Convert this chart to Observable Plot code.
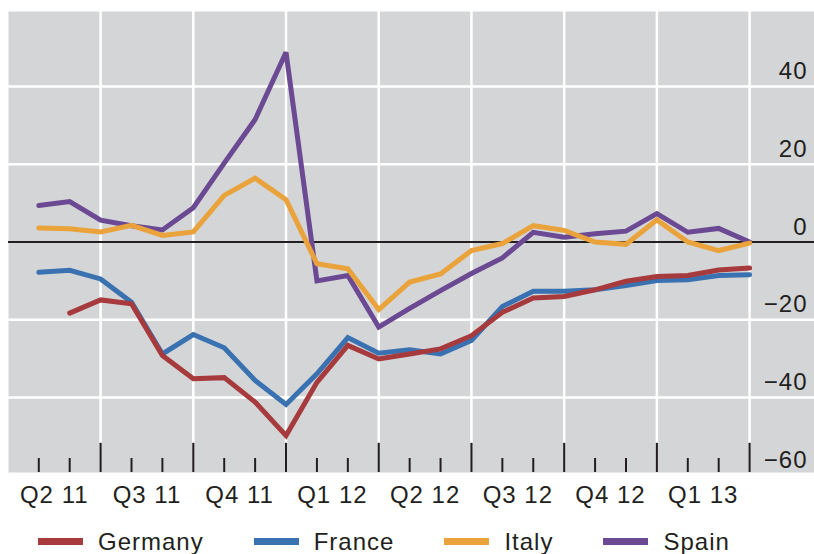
<!DOCTYPE html>
<html>
<head>
<meta charset="utf-8">
<script src="https://cdn.jsdelivr.net/npm/d3@7"></script>
<script src="https://cdn.jsdelivr.net/npm/@observablehq/plot@0.6"></script>
<style>
  body { margin: 0; background: #fff; font-family: "Liberation Sans", Arial, sans-serif; }
  #legend { display: flex; align-items: center; gap: 50px; padding-left: 38px; margin-top: 7px; height: 39px; font-size: 24px; letter-spacing: 1px; color: #231f20; }
  .item { display: flex; align-items: center; gap: 15px; }
  .sw { width: 45px; height: 7px; }
</style>
</head>
<body>
<div id="chart"></div>
<div id="legend"></div>
<script>
const months = ["Apr 11","May 11","Jun 11","Jul 11","Aug 11","Sep 11","Oct 11","Nov 11","Dec 11","Jan 12","Feb 12","Mar 12","Apr 12","May 12","Jun 12","Jul 12","Aug 12","Sep 12","Oct 12","Nov 12","Dec 12","Jan 13","Feb 13","Mar 13"];
const germany = [null,-18.3,-14.9,-15.9,-29.2,-35.2,-34.9,-41.2,-49.8,-36.1,-26.6,-30.1,-28.8,-27.5,-24.1,-18.1,-14.4,-14.0,-12.3,-10.1,-8.9,-8.6,-7.2,-6.7];
const france  = [-7.8,-7.3,-9.5,-15.5,-28.8,-23.8,-27.2,-35.6,-41.8,-33.9,-24.6,-28.6,-27.7,-28.8,-25.3,-16.6,-12.7,-12.7,-12.3,-11.2,-9.9,-9.7,-8.6,-8.4];
const italy   = [3.6,3.4,2.6,4.3,1.7,2.6,12.0,16.4,10.9,-5.6,-6.9,-17.4,-10.3,-8.2,-2.2,-0.4,4.2,3.0,0,-0.6,5.7,0,-2.2,-0.3];
const spain   = [9.4,10.4,5.6,4.2,3.1,8.8,20.3,31.5,48.8,-10.0,-8.6,-21.9,-17.1,-12.5,-8.1,-4.1,2.5,1.2,2.1,2.8,7.3,2.5,3.5,0];
const seriesNames = ["Germany","France","Italy","Spain"];
const seriesColors = ["#a63a3c","#3a71b1","#eaa23b","#6b4993"];
const quarterLabels = ["Q2 11","Q3 11","Q4 11","Q1 12","Q2 12","Q3 12","Q4 12","Q1 13"];
const quarterCenters = [0.5,3.5,6.5,9.5,12.5,15.5,18.5,21.5];
const quarterEnds = [2,5,8,11,14,17,20,23];
const yGrid = [40,20,-20,-40];
const yLabels = [40,20,0,-20,-40,-60];

function rows(vals) {
  const out = [];
  vals.forEach((v, i) => { if (v !== null) out.push({i, v, month: months[i]}); });
  return out;
}
const monthIdx = months.map((m, i) => i);
const minorIdx = monthIdx.filter(i => !quarterEnds.includes(i));
const ink = "#231f20";
const yBottom = -59.3;
const gridBottom = -51.8;
const minorTop = -55.7;

const lineOpts = (k) => ({x: "i", y: "v", stroke: seriesColors[k], strokeWidth: 5, strokeLinejoin: "miter", strokeMiterlimit: 3, strokeLinecap: "round"});

const chart = Plot.plot({
  width: 814,
  height: 515,
  marginLeft: 8,
  marginRight: 0,
  marginTop: 11,
  marginBottom: 43,
  x: {type: "linear", domain: [-0.98, 25.1], axis: null},
  y: {type: "linear", domain: [yBottom, 59.3], axis: null},
  style: {fontFamily: "'Liberation Sans', Arial, sans-serif", color: ink, background: "#fff", letterSpacing: "1px"},
  marks: [
    Plot.frame({fill: "#d4d5d7", stroke: null}),
    Plot.ruleY(yGrid, {stroke: "#fff", strokeWidth: 2.5}),
    Plot.ruleX(quarterEnds, {y1: gridBottom, y2: 59.3, stroke: "#fff", strokeWidth: 2.5}),
    Plot.ruleX(quarterEnds, {y1: yBottom, y2: gridBottom, stroke: ink, strokeWidth: 2}),
    Plot.ruleX(minorIdx, {y1: yBottom, y2: minorTop, stroke: ink, strokeWidth: 2}),
    Plot.ruleY([0], {stroke: ink, strokeWidth: 2}),
    Plot.line(rows(spain), lineOpts(3)),
    Plot.line(rows(italy), lineOpts(2)),
    Plot.line(rows(france), lineOpts(1)),
    Plot.line(rows(germany), lineOpts(0)),
    Plot.text(yLabels, {y: d => d, text: d => d < 0 ? "\u2212" + Math.abs(d) : String(d), frameAnchor: "right", textAnchor: "end", dx: -7, dy: -15, fontSize: 24, fill: ink}),
    Plot.text(quarterLabels, {x: (d, k) => quarterCenters[k], text: d => d, frameAnchor: "bottom", lineAnchor: "middle", dy: 23, fontSize: 24, fill: ink})
  ]
});
document.getElementById("chart").appendChild(chart);

const legend = document.getElementById("legend");
seriesNames.forEach((name, k) => {
  const item = document.createElement("div");
  item.className = "item";
  const sw = document.createElement("div");
  sw.className = "sw";
  sw.style.background = seriesColors[k];
  const t = document.createElement("span");
  t.textContent = name;
  item.appendChild(sw);
  item.appendChild(t);
  legend.appendChild(item);
});
</script>
</body>
</html>
